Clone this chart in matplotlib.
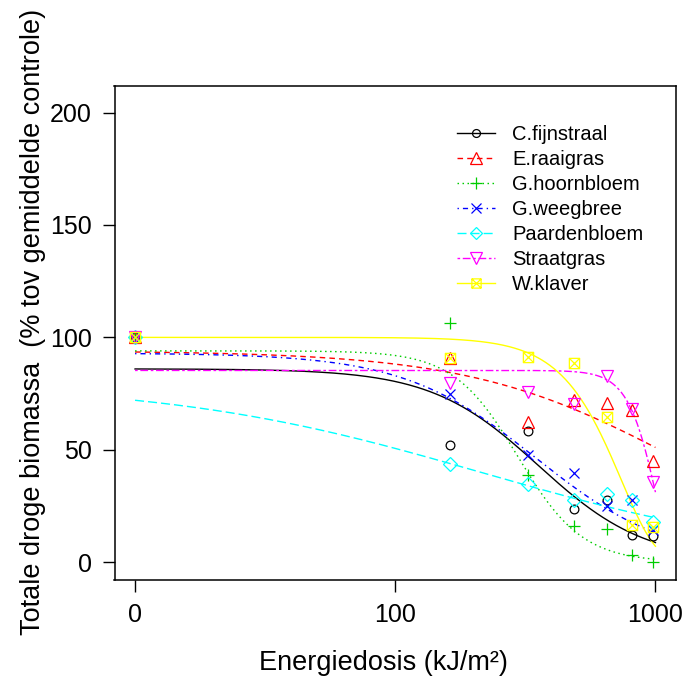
import numpy as np
import matplotlib
matplotlib.use("Agg")
import matplotlib.pyplot as plt
from matplotlib.path import Path
from matplotlib.lines import Line2D

# ---------------- data ----------------
species = ["C.fijnstraal", "E.raaigras", "G.hoornbloem", "G.weegbree",
           "Paardenbloem", "Straatgras", "W.klaver"]
dose = [0, 162.5, 325, 487.5, 650, 812.5, 975]

c_fijnstraal = [100, 52, 58.4, 23.7, 27.9, 12.3, 11.6]
e_raaigras   = [100, 91, 62.4, 72.3, 70.8, 67.6, 45.2]
g_hoornbloem = [100, 106.4, 38.7, 16, 15, 3.1, 0.1]
g_weegbree   = [100, 74.7, 47.6, 39.9, 25, 27.6, 14.2]
paardenbloem = [100, 43.9, 34.7, 27.6, 30.2, 27.9, 17.9]
straatgras   = [100, 79.7, 75.7, 70.5, 82.7, 68, 35.7]
w_klaver     = [100, 91, 91.3, 88.6, 64.6, 16.4, 15.7]
observed = [c_fijnstraal, e_raaigras, g_hoornbloem, g_weegbree,
            paardenbloem, straatgras, w_klaver]

# fitted dose-response curves (lower limit 0): model, slope b, upper d, ED50-like e
fit_model = ["LL", "LL", "LL", "LL", "LL", "W1", "W1"]
fit_b = [2.1, 1.1, 3.5, 1.7, 0.72, 7.0, 3.2]
fit_d = [86, 94, 94, 93, 80, 85.3, 100]
fit_e = [355, 1170, 296, 346, 213, 999, 738]

x_ticks = [10, 100, 1000]
x_ticklabels = ["0", "100", "1000"]
y_ticks = [0, 50, 100, 150, 200]

# ---------------- style ----------------
plt.rcParams["font.family"] = ["Liberation Sans", "DejaVu Sans"]
plt.rcParams["lines.scale_dashes"] = False

colors = ["black", "#FF0000", "#00CD00", "#0000FF", "#00FFFF", "#FF00FF", "#FFFF00"]
dashes = [None, (4, 3), (1.1, 2.5), (1.0, 2.9, 3.7, 2.9), (6.5, 2.9),
          (1.9, 1.9, 5.6, 1.9), None]

sqx = Path([(-1, -1), (1, -1), (1, 1), (-1, 1), (-1, -1),
            (-1, -1), (1, 1), (-1, 1), (1, -1)],
           [Path.MOVETO, Path.LINETO, Path.LINETO, Path.LINETO, Path.CLOSEPOLY,
            Path.MOVETO, Path.LINETO, Path.MOVETO, Path.LINETO])
markers = ["o", "^", "+", "x", "D", "v", sqx]
msizes = [6.3, 9.0, 9.2, 7.3, 6.9, 9.0, 7.4]

zero_pos = 10.0

fig = plt.figure(figsize=(6.88, 6.86), dpi=100)
W, H = 688, 686
ax_l, ax_r, ax_t, ax_b = 114.5, 676, 86, 580
ax = fig.add_axes([ax_l / W, 1 - ax_b / H, (ax_r - ax_l) / W, (ax_b - ax_t) / H])

xx = np.logspace(np.log10(zero_pos), 3, 400)
xd = np.array([zero_pos if d == 0 else d for d in dose])

for i, name in enumerate(species):
    b, d, e = fit_b[i], fit_d[i], fit_e[i]
    if fit_model[i] == "LL":
        yy = d / (1 + (xx / e) ** b)
    else:
        yy = d * np.exp(-(xx / e) ** b)
    ls = "-" if dashes[i] is None else (0, dashes[i])
    ax.plot(xx, yy, color=colors[i], lw=1.0, linestyle=ls, zorder=2)
    ax.plot(xd, observed[i], linestyle="none", marker=markers[i],
            ms=msizes[i], mfc="none", mec=colors[i], mew=0.9, zorder=3)

handles = []
for i, name in enumerate(species):
    ls = "-" if dashes[i] is None else (0, dashes[i])
    handles.append(Line2D([], [], color=colors[i], lw=1.0, linestyle=ls,
                          marker=markers[i], ms=msizes[i] * 0.9, mfc="none",
                          mec=colors[i], mew=0.9))
ax.legend(handles, species, loc="upper left",
          bbox_to_anchor=((456.7 - ax_l) / (ax_r - ax_l), (ax_b - 125.0) / (ax_b - ax_t)),
          frameon=False, fontsize=14.5, handlelength=1.9, handletextpad=0.85,
          labelspacing=0.30, borderpad=0, borderaxespad=0, numpoints=1)

ax.set_xscale("log")
ax.set_xlim(10 ** 0.921, 10 ** 3.079)
ax.set_ylim(-7.9, 211.8)
ax.set_xticks(x_ticks)
ax.set_xticklabels(x_ticklabels)
ax.xaxis.set_minor_locator(matplotlib.ticker.NullLocator())
ax.set_yticks(y_ticks)
ax.tick_params(axis="both", direction="out", length=8.5, width=1.0,
               labelsize=18, pad=8, color="black")
for sp in ax.spines.values():
    sp.set_linewidth(1.1)

ax.set_xlabel("Energiedosis (kJ/m²)", fontsize=19.5)
ax.set_ylabel("Totale droge biomassa  (% tov gemiddelde controle)", fontsize=19.5)
ax.xaxis.set_label_coords((383 - ax_l) / (ax_r - ax_l), -(650 - ax_b) / (ax_b - ax_t))
ax.yaxis.set_label_coords(-(ax_l - 46) / (ax_r - ax_l), 0.522)

fig.savefig("out.png", dpi=100)
